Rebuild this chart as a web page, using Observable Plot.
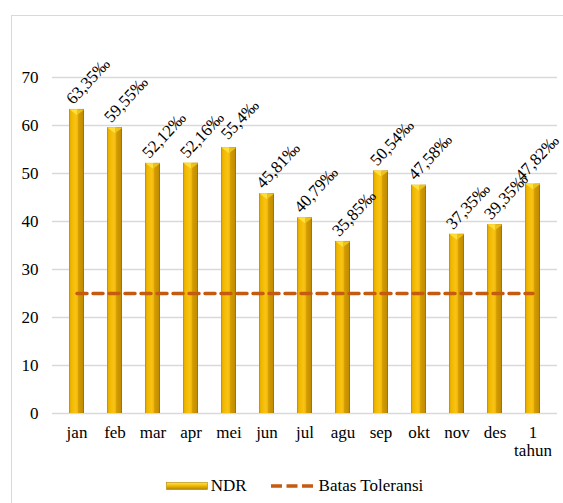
<!DOCTYPE html>
<html>
<head>
<meta charset="utf-8">
<script src="https://cdn.jsdelivr.net/npm/d3@7"></script>
<script src="https://cdn.jsdelivr.net/npm/@observablehq/plot@0.6"></script>
<style>
  html, body { margin: 0; padding: 0; background: #fff; }
  #wrap { position: relative; width: 563px; height: 503px; overflow: hidden; font-family: "Liberation Serif", "Times New Roman", serif; }
  #frame { position: absolute; left: 11px; top: 15px; width: 600px; height: 600px; border-left: 1.3px solid #d9d9d9; border-top: 1.3px solid #d9d9d9; box-sizing: border-box; }
  #chart { position: absolute; left: 0; top: 0; }
  #legend { position: absolute; left: 0; top: 473px; width: 563px; height: 26px; display: flex; justify-content: center; align-items: center; padding-left: 26px; box-sizing: border-box; font-size: 17px; color: #000; }
  .item { display: flex; align-items: center; }
</style>
</head>
<body>
<div id="wrap">
  <div id="frame"></div>
  <div id="chart"></div>
  <div id="legend">
    <div class="item" style="margin-right:24px">
      <svg width="42" height="10" style="margin-right:3px">
        <defs>
          <linearGradient id="swatchGrad" x1="0" y1="0" x2="0" y2="1">
            <stop offset="0" stop-color="#ffe24d"/>
            <stop offset="0.45" stop-color="#f4bb00"/>
            <stop offset="1" stop-color="#b08400"/>
          </linearGradient>
        </defs>
        <rect x="0.5" y="1.5" width="41" height="7" fill="url(#swatchGrad)" stroke="#b08400" stroke-width="0.6"/>
      </svg>
      <span>NDR</span>
    </div>
    <div class="item">
      <svg width="42" height="10" style="margin-right:6px">
        <line x1="0" y1="5" x2="42" y2="5" stroke="#c55a11" stroke-width="3.5" stroke-dasharray="11,4.5"/>
      </svg>
      <span>Batas Toleransi</span>
    </div>
  </div>
</div>
<script>
// Monthly NDR (‰) with the yearly total, and the tolerance limit
const bulan = ["jan", "feb", "mar", "apr", "mei", "jun", "jul", "agu", "sep", "okt", "nov", "des", "1\ntahun"];
const ndr = [63.35, 59.55, 52.12, 52.16, 55.4, 45.81, 40.79, 35.85, 50.54, 47.58, 37.35, 39.35, 47.82];
const batasToleransi = 25;
const yTicks = [0, 10, 20, 30, 40, 50, 60, 70];

const rows = bulan.map((b, i) => ({bulan: b, ndr: ndr[i]}));
const fmt = (v) => String(v).replace(".", ",") + "‰";
const lastBulan = bulan[bulan.length - 1];

const gold = "url(#ndrGrad)";
const font = "'Liberation Serif', 'Times New Roman', serif";

// Bevelled cap on top of each bar: left and right halves of a flat, downward triangle
const capLeft = {
  draw(ctx, size) {
    const r = Math.sqrt(size / Math.PI);
    ctx.moveTo(-r, 0); ctx.lineTo(0, 0); ctx.lineTo(0, r * 0.75); ctx.closePath();
  }
};
const capRight = {
  draw(ctx, size) {
    const r = Math.sqrt(size / Math.PI);
    ctx.moveTo(0, 0); ctx.lineTo(r, 0); ctx.lineTo(0, r * 0.75); ctx.closePath();
  }
};

const labelStyle = {
  x: "bulan", y: "ndr", text: (d) => fmt(d.ndr),
  rotate: -47, textAnchor: "middle",
  fontSize: 17, fontFamily: font, fill: "#000"
};

const chart = Plot.plot({
  width: 563,
  height: 470,
  marginLeft: 52,
  marginRight: 6,
  marginTop: 77,
  marginBottom: 57,
  style: {fontFamily: font, fontSize: "17px", color: "#000", background: "transparent", overflow: "visible"},
  x: {domain: bulan, paddingInner: 0.6, paddingOuter: 0.3, label: null},
  y: {domain: [0, 70], label: null},
  marks: [
    Plot.gridY(yTicks, {stroke: "#d9d9d9", strokeOpacity: 1, strokeWidth: 1.3}),
    Plot.axisY(yTicks, {tickSize: 0, tickPadding: 14, fontSize: 17, fontFamily: font, fill: "#000", label: null}),
    Plot.axisX({tickSize: 0, tickPadding: 12, fontSize: 17, fontFamily: font, fill: "#000", label: null, lineHeight: 1.05}),
    Plot.barY(rows, {x: "bulan", y: "ndr", fill: gold}),
    Plot.dot(rows, {x: "bulan", y: "ndr", symbol: capLeft, r: 7.4, fill: "#ffe03a", stroke: "none"}),
    Plot.dot(rows, {x: "bulan", y: "ndr", symbol: capRight, r: 7.4, fill: "#eec21a", stroke: "none"}),
    Plot.lineY(bulan, {x: (d) => d, y: () => batasToleransi, stroke: "#c55a11", strokeWidth: 3.5, strokeDasharray: "10,6"}),
    // value labels; the rightmost one is nudged left to stay inside the chart
    Plot.text(rows.filter((d) => d.bulan !== lastBulan), {...labelStyle, dx: 11, dy: -28}),
    Plot.text(rows.filter((d) => d.bulan === lastBulan), {...labelStyle, dx: 4, dy: -26})
  ]
});

// Horizontal shading that gives the bars their rounded, metallic look
const defs = d3.select(chart).insert("defs", ":first-child");
const g = defs.append("linearGradient").attr("id", "ndrGrad").attr("x1", 0).attr("y1", 0).attr("x2", 1).attr("y2", 0);
[
  [0, "#b98900"], [0.1, "#e8ae00"], [0.2, "#f4ba00"], [0.45, "#f8c318"],
  [0.6, "#f0b400"], [0.64, "#d29c00"], [0.9, "#c38f00"], [1, "#8f6a00"]
].forEach(([o, c]) => g.append("stop").attr("offset", o).attr("stop-color", c));

document.getElementById("chart").appendChild(chart);
</script>
</body>
</html>
